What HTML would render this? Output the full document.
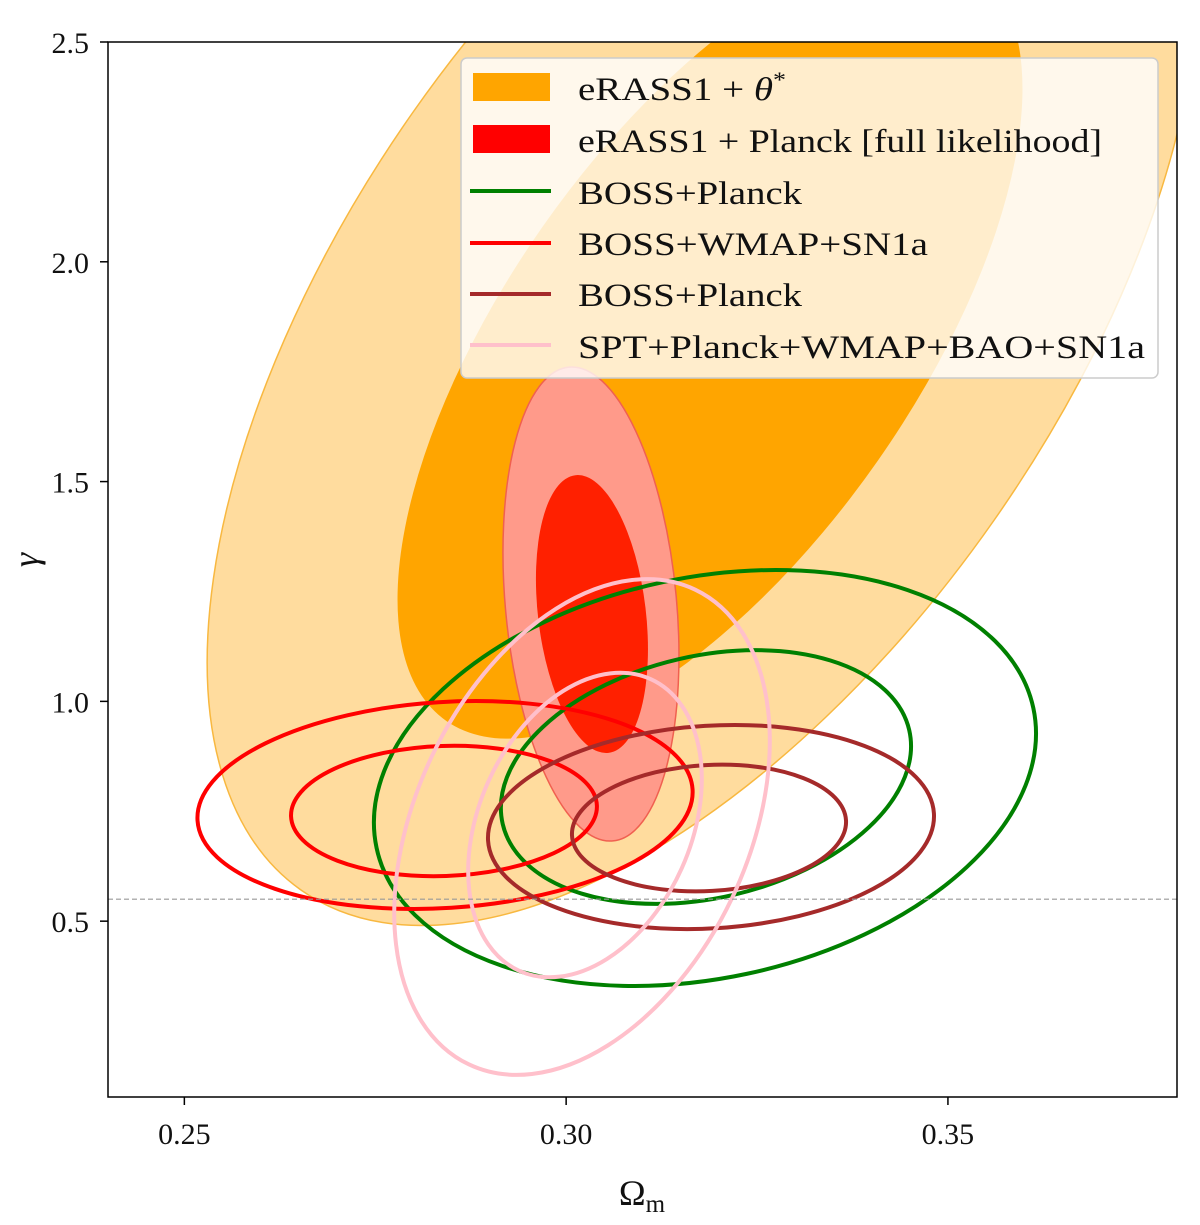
<!DOCTYPE html>
<html><head><meta charset="utf-8"><style>
body{margin:0;background:#fff;}
svg text{font-family:"Liberation Serif",serif;fill:#111;}
</style></head><body>
<svg id="chart" width="1200" height="1220" viewBox="0 0 1200 1220">
<defs><clipPath id="plotclip"><rect x="108" y="42" width="1069" height="1055"/></clipPath></defs>
<g id="marks" clip-path="url(#plotclip)"></g>
<rect x="108" y="42" width="1069" height="1055" fill="none" stroke="#000" stroke-width="1.5"/>
<g id="axes"></g>
<text x="642" y="1205" font-size="36" text-anchor="middle">Ω<tspan font-size="25" dy="7">m</tspan></text>
<text x="0" y="0" font-size="36" font-style="italic" text-anchor="middle" transform="translate(38,560) rotate(-90)">γ</text>
<g>
<rect x="461" y="58" width="697" height="320" rx="6" fill="#fff" fill-opacity="0.8" stroke="#ccc" stroke-width="1.5"/>
<rect x="473" y="73" width="77" height="28" fill="#ffa500"/>
<text x="578" y="100" font-size="33" textLength="208" lengthAdjust="spacingAndGlyphs">eRASS1 + <tspan font-style="italic">θ</tspan><tspan font-size="22" dy="-13">*</tspan></text>
<rect x="473" y="125" width="77" height="28" fill="#ff0000"/>
<text x="578" y="152" font-size="33" textLength="524" lengthAdjust="spacingAndGlyphs">eRASS1 + Planck [full likelihood]</text>
<line x1="470" x2="551" y1="191" y2="191" stroke="#008000" stroke-width="4"/>
<text x="578" y="204" font-size="33" textLength="224" lengthAdjust="spacingAndGlyphs">BOSS+Planck</text>
<line x1="470" x2="551" y1="243" y2="243" stroke="#ff0000" stroke-width="4"/>
<text x="578" y="255" font-size="33" textLength="350" lengthAdjust="spacingAndGlyphs">BOSS+WMAP+SN1a</text>
<line x1="470" x2="551" y1="294" y2="294" stroke="#a52a2a" stroke-width="4"/>
<text x="578" y="306" font-size="33" textLength="224" lengthAdjust="spacingAndGlyphs">BOSS+Planck</text>
<line x1="470" x2="551" y1="345" y2="345" stroke="#ffc0cb" stroke-width="4"/>
<text x="578" y="358" font-size="33" textLength="567" lengthAdjust="spacingAndGlyphs">SPT+Planck+WMAP+BAO+SN1a</text>
</g>
</svg>
<script>
// Contour ellipses: center (Omega_m, gamma), semi-axes (Omega units, gamma units), tilt in degrees
const ellipseNames = ["erass-theta-2sigma","erass-theta-1sigma","erass-planck-2sigma","erass-planck-1sigma","boss-planck-green-2sigma","boss-planck-green-1sigma","boss-wmap-2sigma","boss-wmap-1sigma","boss-planck-brown-2sigma","boss-planck-brown-1sigma","spt-2sigma","spt-1sigma"];
const centerOm = [0.31792,0.31884,0.30325,0.30338,0.31818,0.31831,0.28414,0.28400,0.31897,0.31871,0.30208,0.30247];
const centerGamma = [1.8744,1.8129,1.2215,1.1987,0.8257,0.8279,0.7643,0.7506,0.7142,0.7119,0.7142,0.7188];
const semiA = [0.09167,0.06024,0.03116,0.01831,0.04397,0.02732,0.03248,0.02004,0.02925,0.01797,0.03444,0.02095];
const semiB = [0.8076,0.465,0.1947,0.1226,0.4556,0.2752,0.2343,0.1479,0.2305,0.1433,0.3776,0.2411];
const tilt = [-55,-55,-95.3,-96.8,-12,-13,-3.6,-2,-3.5,-3.2,-64.5,-65.8];
const fills = ["#ffdc9e","#ffa500","#ff9a8a","#ff2000","none","none","none","none","none","none","none","none"];
const strokes = ["#f8b840","none","#f06050","none","#008000","#008000","#ff0000","#ff0000","#a52a2a","#a52a2a","#ffc0cb","#ffc0cb"];
const xTicks = [0.25,0.30,0.35];
const xTickLabels = ["0.25","0.30","0.35"];
const yTicks = [0.5,1.0,1.5,2.0,2.5];
const yTickLabels = ["0.5","1.0","1.5","2.0","2.5"];
const refGamma = 0.55;

const X0=108,X1=1177,Y0=42,Y1=1097, xmin=0.24,xmax=0.38,ymin=0.1,ymax=2.5;
const sx=v=>X0+(v-xmin)/(xmax-xmin)*(X1-X0);
const sy=v=>Y1-(v-ymin)/(ymax-ymin)*(Y1-Y0);
const pxPerX=(X1-X0)/(xmax-xmin), pxPerY=(Y1-Y0)/(ymax-ymin);
const NS="http://www.w3.org/2000/svg";
const marks=document.getElementById('marks'), axes=document.getElementById('axes');

for(let i=0;i<ellipseNames.length;i++){
  const e=document.createElementNS(NS,'ellipse');
  e.setAttribute('cx',sx(centerOm[i]));e.setAttribute('cy',sy(centerGamma[i]));
  e.setAttribute('rx',semiA[i]*pxPerX);e.setAttribute('ry',semiB[i]*pxPerY);
  e.setAttribute('transform',`rotate(${tilt[i]} ${sx(centerOm[i])} ${sy(centerGamma[i])})`);
  e.setAttribute('fill',fills[i]);
  e.setAttribute('stroke',strokes[i]);
  e.setAttribute('stroke-width',fills[i]==="none"?4:1.5);
  
  
  marks.appendChild(e);
}
const rl=document.createElementNS(NS,'line');
rl.setAttribute('x1',X0);rl.setAttribute('x2',X1);rl.setAttribute('y1',sy(refGamma));rl.setAttribute('y2',sy(refGamma));
rl.setAttribute('stroke','#999');rl.setAttribute('stroke-width',1.2);rl.setAttribute('stroke-dasharray','5,3');


marks.appendChild(rl);

xTicks.forEach((v,i)=>{
  const l=document.createElementNS(NS,'line');
  l.setAttribute('x1',sx(v));l.setAttribute('x2',sx(v));l.setAttribute('y1',Y1);l.setAttribute('y2',Y1+8);l.setAttribute('stroke','#000');l.setAttribute('stroke-width',1.5);
  
  
  axes.appendChild(l);
  const t=document.createElementNS(NS,'text');
  t.setAttribute('x',sx(v));t.setAttribute('y',Y1+47);t.setAttribute('font-size','30');t.setAttribute('text-anchor','middle');
  t.textContent=xTickLabels[i];
  
  
  axes.appendChild(t);
});
yTicks.forEach((v,i)=>{
  const l=document.createElementNS(NS,'line');
  l.setAttribute('x1',X0-8);l.setAttribute('x2',X0);l.setAttribute('y1',sy(v));l.setAttribute('y2',sy(v));l.setAttribute('stroke','#000');l.setAttribute('stroke-width',1.5);
  
  
  axes.appendChild(l);
  const t=document.createElementNS(NS,'text');
  t.setAttribute('x',X0-19);t.setAttribute('y',sy(v)+11);t.setAttribute('font-size','30');t.setAttribute('text-anchor','end');
  t.textContent=yTickLabels[i];
  
  
  axes.appendChild(t);
});
</script>
</body></html>
